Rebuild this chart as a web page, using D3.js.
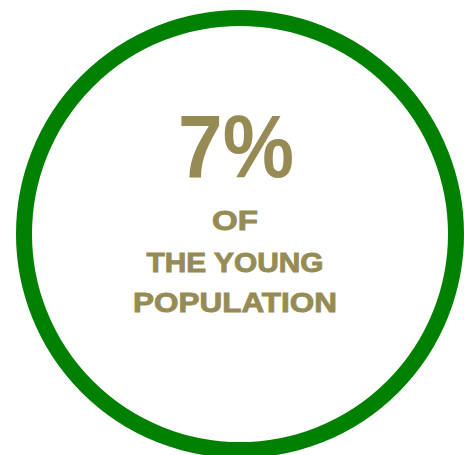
<!DOCTYPE html>
<html><head><meta charset="utf-8">
<script src="https://cdn.jsdelivr.net/npm/d3@7"></script>
<style>html,body{margin:0;padding:0;background:#fff;}svg{display:block;}</style>
</head><body>
<script>
const value = [7];
const valueLabels = ["7%"];
const captionLines = ["OF", "THE YOUNG", "POPULATION"];

const W = 464, H = 455;
const svg = d3.select("body").append("svg").attr("width", W).attr("height", H);

svg.append("circle")
  .attr("cx", 240).attr("cy", 234).attr("r", 216)
  .attr("fill", "none").attr("stroke", "#008000").attr("stroke-width", 16);

const color = "#968b55";
svg.append("text")
  .data(valueLabels)
  .attr("x", 236).attr("y", 177)
  .attr("text-anchor", "middle")
  .attr("font-family", "Liberation Sans, Arial, sans-serif")
  .attr("font-weight", "bold").attr("font-size", 89)
  .attr("textLength", 116).attr("lengthAdjust", "spacingAndGlyphs")
  .attr("fill", color)
  .text(d => d);

const ys = [229.6, 271.6, 311.6];
const lens = [46, 177, 204];
svg.selectAll("text.cap").data(captionLines).join("text")
  .attr("class", "cap")
  .attr("x", 235).attr("y", (d, i) => ys[i])
  .attr("text-anchor", "middle")
  .attr("font-family", "Liberation Sans, Arial, sans-serif")
  .attr("font-weight", "bold").attr("font-size", 27.5)
  .attr("textLength", (d, i) => lens[i]).attr("lengthAdjust", "spacingAndGlyphs")
  .attr("fill", color).attr("stroke", color).attr("stroke-width", 0.9)
  .text(d => d);
</script>
</body></html>
